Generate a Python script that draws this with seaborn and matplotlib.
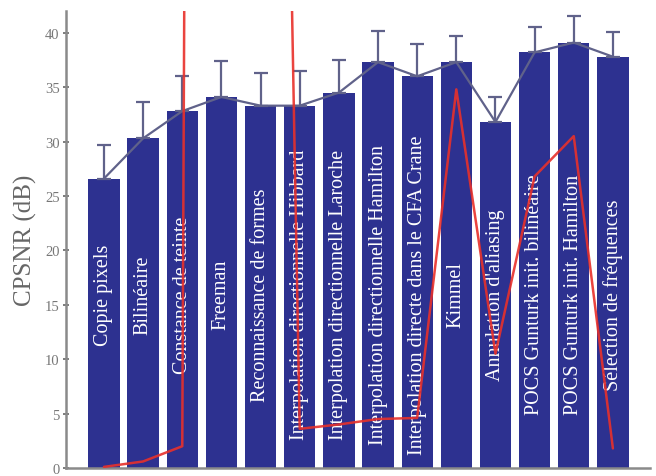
import matplotlib
matplotlib.use("Agg")
import matplotlib.pyplot as plt
import seaborn as sns
import numpy as np
import pandas as pd

methods = [
    "Copie pixels",
    "Bilinéaire",
    "Constance de teinte",
    "Freeman",
    "Reconnaissance de formes",
    "Interpolation directionnelle Hibbard",
    "Interpolation directionnelle Laroche",
    "Interpolation directionnelle Hamilton",
    "Interpolation directe dans le CFA Crane",
    "Kimmel",
    "Annulation d'aliasing",
    "POCS Gunturk init. bilinéaire",
    "POCS Gunturk init. Hamilton",
    "Sélection de fréquences",
]
cpsnr_mean = [26.6, 30.3, 32.8, 34.1, 33.3, 33.3, 34.5, 37.3, 36.0, 37.3, 31.8, 38.2, 39.1, 37.8]
cpsnr_err = [3.1, 3.3, 3.2, 3.3, 3.0, 3.2, 3.0, 2.9, 3.0, 2.4, 2.3, 2.3, 2.4, 2.3]
red_series = [0.1, 0.6, 2.0, 800, 200, 3.6, 4.0, 4.5, 4.6, 34.8, 10.5, 26.8, 30.5, 1.8]
yticks = [0, 5, 10, 15, 20, 25, 30, 35, 40]

df = pd.DataFrame({"method": methods, "cpsnr": cpsnr_mean})

sns.set_theme(style="white")
plt.rcParams["font.family"] = ["Liberation Serif", "DejaVu Serif"]

fig = plt.figure(figsize=(6.56, 4.77), dpi=100)
ax = fig.add_axes([0.1006, 0.0168, 0.8904, 0.958])

bar_color = "#2d3190"
grey = "#60628a"

sns.barplot(data=df, x="method", y="cpsnr", color=bar_color, saturation=1,
            width=0.8, ax=ax, zorder=2)
for p in ax.patches:
    p.set_edgecolor("none")

x = np.arange(len(methods))
ax.errorbar(x, cpsnr_mean, yerr=[np.zeros(len(x)), cpsnr_err], fmt="none",
            ecolor=grey, elinewidth=1.6, capsize=5, capthick=1.6, zorder=3)
ax.plot(x, cpsnr_mean, color=grey, lw=1.6, zorder=3)

for i, name in enumerate(methods):
    ax.text(i, 16, name, rotation=90, ha="center", va="center",
            color="white", fontsize=14.5, zorder=4)

ax.plot(x, red_series, color="#e8302a", lw=1.8, zorder=5, alpha=0.9)

ax.set_xlim(-0.97, 13.95)
ax.set_ylim(0, 42)
ax.set_yticks(yticks)
ax.set_yticklabels([str(t) for t in yticks], fontsize=10.5, color="#777777")
ax.set_xticks([])
ax.set_xlabel("")
ax.set_ylabel("CPSNR (dB)", fontsize=18, color="#666666", labelpad=6)

for s in ["top", "right"]:
    ax.spines[s].set_visible(False)
for s in ["left", "bottom"]:
    ax.spines[s].set_color("#8a8a8a")
    ax.spines[s].set_linewidth(1.8)
ax.tick_params(axis="y", direction="inout", length=5, width=1.2,
               color="#666666", pad=2, left=True)

fig.savefig("out.png", dpi=100)
